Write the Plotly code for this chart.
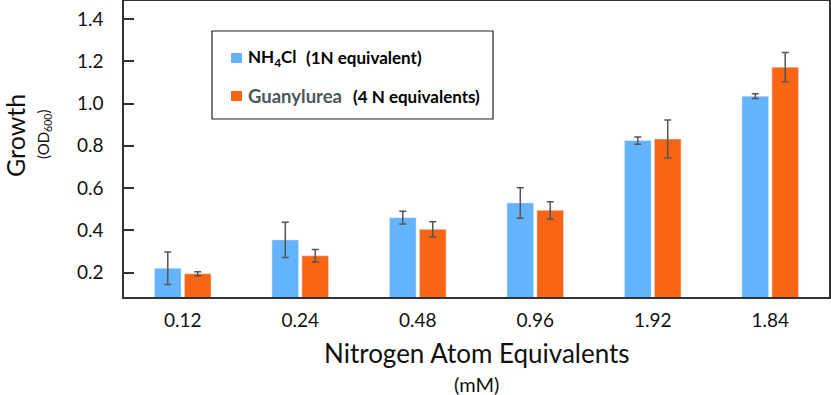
import plotly.graph_objects as go

categories = ["0.12", "0.24", "0.48", "0.96", "1.92", "1.84"]
nh4cl = [0.221, 0.355, 0.460, 0.530, 0.825, 1.035]
nh4cl_err = [0.077, 0.083, 0.030, 0.072, 0.017, 0.011]
guanylurea = [0.195, 0.280, 0.405, 0.495, 0.832, 1.172]
guanylurea_err = [0.009, 0.030, 0.036, 0.041, 0.090, 0.069]
y_ticks = [0.2, 0.4, 0.6, 0.8, 1.0, 1.2, 1.4]

BLUE = "#63B3FD"
ORANGE = "#FA6415"
ERR = "#555555"
FONT = "Lato"

W, H = 831, 395
L, R, T, B = 124, 829, 1, 297


def px(x):
    return (x - L) / (R - L)


def py(y):
    return (B - y) / (B - T)


fig = go.Figure()
fig.add_trace(go.Bar(
    x=categories, y=nh4cl, name="NH4Cl", marker_color=BLUE,
    error_y=dict(type="data", array=nh4cl_err, color=ERR, thickness=1.5, width=3.5),
))
fig.add_trace(go.Bar(
    x=categories, y=guanylurea, name="Guanylurea", marker_color=ORANGE,
    error_y=dict(type="data", array=guanylurea_err, color=ERR, thickness=1.5, width=3.5),
))

shapes = [
    dict(type="rect", xref="paper", yref="paper", x0=px(212), x1=px(493), y0=py(31), y1=py(119),
         line=dict(color="#222222", width=1.2), fillcolor="white"),
    dict(type="rect", xref="paper", yref="paper", x0=px(231), x1=px(242), y0=py(53), y1=py(63),
         line=dict(width=0), fillcolor=BLUE),
    dict(type="rect", xref="paper", yref="paper", x0=px(231), x1=px(242), y0=py(91), y1=py(101),
         line=dict(width=0), fillcolor=ORANGE),
]

ann = [
    dict(text="<b>NH<sub>4</sub>Cl</b>", x=px(246), y=py(58), xanchor="left", yanchor="middle",
         font=dict(family=FONT, size=17, color="#000000")),
    dict(text="<b>(1N equivalent)</b>", x=px(304), y=py(58), xanchor="left", yanchor="middle",
         font=dict(family=FONT, size=17, color="#000000")),
    dict(text="<b>Guanylurea</b>", x=px(246), y=py(96), xanchor="left", yanchor="middle",
         font=dict(family=FONT, size=18.5, color="#4A5858")),
    dict(text="<b>(4 N equivalents)</b>", x=px(351), y=py(96), xanchor="left", yanchor="middle",
         font=dict(family=FONT, size=17, color="#000000")),
    dict(text="Growth", x=px(15), y=py(136), textangle=-90, xanchor="center", yanchor="middle",
         font=dict(family=FONT, size=25, color="#111111")),
    dict(text="(OD<sub>600</sub>)", x=px(44), y=py(135), textangle=-90, xanchor="center", yanchor="middle",
         font=dict(family=FONT, size=15, color="#111111")),
    dict(text="Nitrogen Atom Equivalents", x=0.5, y=py(353), xanchor="center", yanchor="middle",
         font=dict(family=FONT, size=26, color="#111111")),
    dict(text="(mM)", x=0.5, y=py(384), xanchor="center", yanchor="middle",
         font=dict(family=FONT, size=20, color="#111111")),
]
for a in ann:
    a.update(xref="paper", yref="paper", showarrow=False)

fig.update_layout(
    width=W, height=H,
    margin=dict(l=L, r=W - R, t=T, b=H - B, pad=0, autoexpand=False),
    paper_bgcolor="white", plot_bgcolor="white",
    barmode="group", bargap=0.49, bargroupgap=0.11,
    showlegend=False,
    shapes=shapes, annotations=ann,
    font=dict(family=FONT, color="#111111"),
)
fig.update_xaxes(
    automargin=False,
    showline=True, linecolor="#333333", linewidth=1.5, mirror=True,
    showgrid=False, ticks="", tickfont=dict(family=FONT, size=19, color="#111111"),
    ticklabelstandoff=5,
)
fig.update_yaxes(
    automargin=False,
    range=[0.085, 1.485], tickvals=y_ticks, ticktext=[f"{v:.1f}" for v in y_ticks],
    showline=True, linecolor="#333333", linewidth=1.5, mirror=True,
    showgrid=False, zeroline=False, ticks="inside", ticklen=10, tickwidth=1.5, tickcolor="#333333",
    tickfont=dict(family=FONT, size=19, color="#111111"), ticklabelstandoff=15,
)

fig.write_html(
    "out.html",
    config={"responsive": False, "displayModeBar": False},
    post_script="document.body.style.margin='0';document.body.style.overflow='hidden';",
)
